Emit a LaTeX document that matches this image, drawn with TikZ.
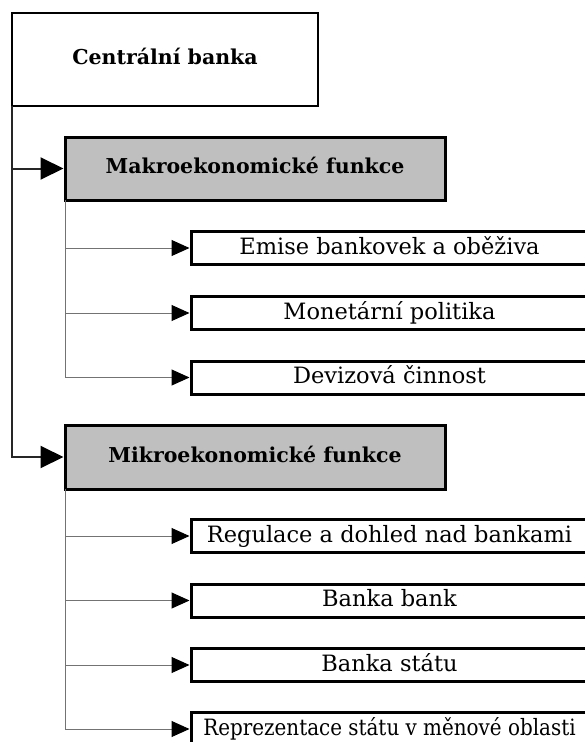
\documentclass[tikz,border=0pt]{standalone}
\usepackage{fontspec}
\setmainfont{DejaVu Serif}
\newfontfamily\uzke{DejaVu Serif}[FakeStretch=0.885]
\usetikzlibrary{arrows.meta}

\begin{document}
\begin{tikzpicture}[x=1pt,y=-1pt,
    hlavni/.style={draw,line width=2.5pt,minimum width=306pt,minimum height=93pt,inner sep=0pt,
        text height=15pt,text depth=5pt,font=\fontsize{20.5}{20.5}\selectfont\bfseries},
    skupina/.style={draw,line width=3pt,fill=gray!50,minimum width=380pt,minimum height=63pt,inner sep=0pt,
        text height=15pt,text depth=5pt,font=\fontsize{20.5}{20.5}\selectfont\bfseries},
    polozka/.style={draw,line width=3pt,minimum width=397pt,minimum height=33pt,inner sep=0pt,
        text height=16.5pt,text depth=4pt,font=\fontsize{22.5}{22.5}\selectfont},
    vetev/.style={draw=black!85,line width=2pt,-{Triangle[length=23pt,width=22pt,black]}},
    pod/.style={draw=black!55,line width=1pt,-{Triangle[length=18pt,width=16pt,black]}}]

    \useasboundingbox (0,0) rectangle (584,742);

    \node [hlavni] (C) at (165,59.5) {Centrální banka};
    \node [skupina] (MA) at (255,168.5) {Makroekonomické funkce};
    \node [skupina,minimum height=64pt] (MI) at (255,457) {Mikroekonomické funkce};

    \foreach \n/\y/\t in {A1/248/Emise bankovek a oběživa,A2/313/Monetární politika,A3/377.5/Devizová činnost}
        \node [polozka] (\n) at (389.5,\y) {\t};

    \foreach \n/\y/\t in {B1/536/Regulace a dohled nad bankami,B2/600.5/Banka bank,B3/665/Banka státu}
        \node [polozka] (\n) at (389.5,\y) {\t};
    \node [polozka] (B4) at (389.5,729) {\uzke Reprezentace státu v~měnové oblasti};

    \coordinate (P) at (12,106);
    \coordinate (Q) at (65,200);
    \coordinate (R) at (65,489);

    \draw [vetev] (P) |- (MA.west);
    \draw [vetev] (P) |- (MI.west);

    \foreach \n in {A1,A2,A3}
        \draw [pod] (Q) |- (\n.west);
    \foreach \n in {B1,B2,B3,B4}
        \draw [pod] (R) |- (\n.west);

\end{tikzpicture}
\end{document}
